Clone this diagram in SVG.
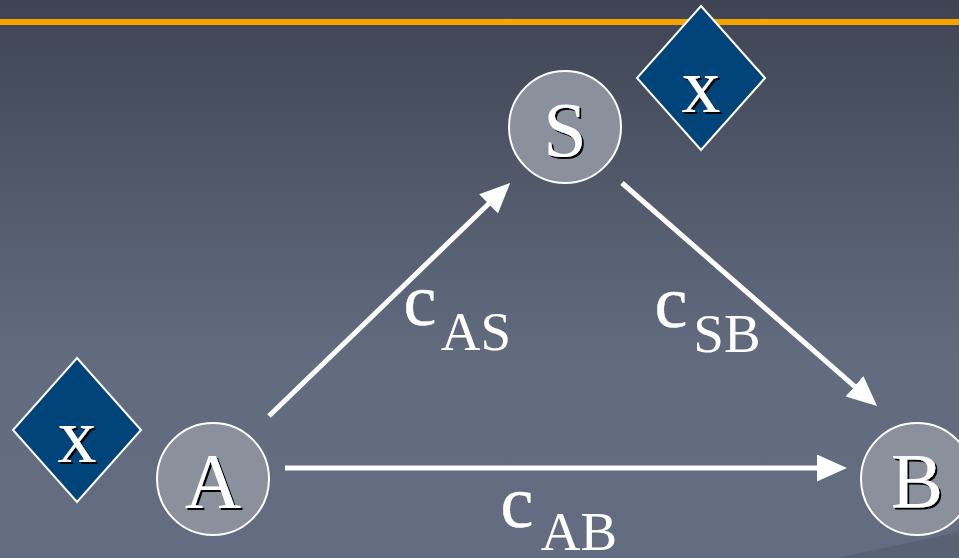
<svg xmlns="http://www.w3.org/2000/svg" width="959" height="558" viewBox="0 0 959 558">
<defs>
<linearGradient id="bg" x1="0" y1="0" x2="0" y2="1">
<stop offset="0" stop-color="#3e4453"/>
<stop offset="0.35" stop-color="#525a6c"/>
<stop offset="0.65" stop-color="#636b7f"/>
<stop offset="1" stop-color="#636c80"/>
</linearGradient>
<filter id="shadow" x="-20%" y="-20%" width="140%" height="140%">
<feDropShadow dx="2" dy="2" stdDeviation="0.3" flood-color="#000000" flood-opacity="1"/>
</filter>
<marker id="ah" markerUnits="userSpaceOnUse" markerWidth="32" markerHeight="28" refX="2" refY="13.5" orient="auto">
<path d="M0,0 L30,13.5 L0,27 Z" fill="#ffffff"/>
</marker>
<style>
text{font-family:'Liberation Serif','Times New Roman',serif;text-anchor:middle}
.node circle{fill:#8a909c;stroke:#ffffff;stroke-width:2}
.dia polygon{fill:#00447a;stroke:#ffffff;stroke-width:2}
.t{font-size:78px;fill:#ffffff;filter:url(#shadow)}
.edge{stroke:#ffffff;stroke-width:5;fill:none;marker-end:url(#ah)}
.lbl{font-size:74px;fill:#ffffff;stroke:#ffffff;stroke-width:0.4}
.sub{font-size:55px;stroke-width:0}
</style>
</defs>
<rect x="0" y="0" width="959" height="558" fill="url(#bg)"/>
<polygon points="837,558 959,532 959,558" fill="#596175"/>
<rect x="0" y="19" width="959" height="6" fill="#f6a400"/>

<g id="connectors">
<line class="edge" x1="269" y1="416" x2="490" y2="202.5"/>
<line class="edge" x1="622" y1="183" x2="856" y2="387.6"/>
<line class="edge" x1="285" y1="468" x2="819" y2="468"/>
</g>

<g id="labels">
<text class="lbl" x="420" y="325">c<tspan class="sub" x="476" y="350">AS</tspan></text>
<text class="lbl" x="671" y="327">c<tspan class="sub" x="727" y="352">SB</tspan></text>
<text class="lbl" x="517" y="527">c<tspan class="sub" x="579" y="550">AB</tspan></text>
</g>

<g id="node-S" class="node">
<circle cx="565" cy="127" r="56"/>
<text class="t" x="565" y="156">S</text>
</g>
<g id="node-A" class="node">
<circle cx="213" cy="479" r="56"/>
<text class="t" x="213" y="507">A</text>
</g>
<g id="node-B" class="node">
<circle cx="917" cy="479" r="56"/>
<text class="t" x="917" y="507">B</text>
</g>
<g id="x-top" class="dia">
<polygon points="701,6 765,78 701,150 637,78"/>
<text class="t" x="701" y="112">x</text>
</g>
<g id="x-left" class="dia">
<polygon points="77,358 141,430 77,502 13,430"/>
<text class="t" x="77" y="462">x</text>
</g>
</svg>
